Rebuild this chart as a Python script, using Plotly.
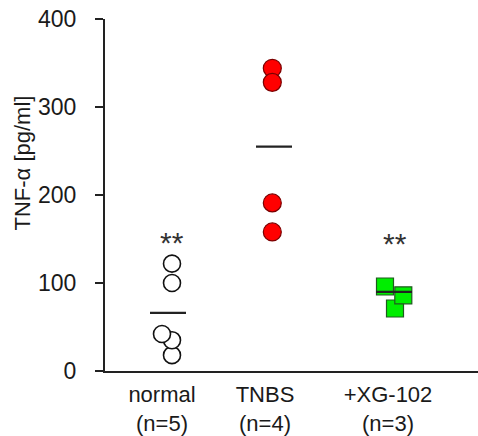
import plotly.graph_objects as go

# ---- data ----
groups = ["normal", "TNBS", "+XG-102"]
tick_labels = ["normal<br>(n=5)", "TNBS<br>(n=4)", "+XG-102<br>(n=3)"]
label_pos = [0.57, 1.60, 2.83]

normal_vals = [122, 100, 18, 35, 42]
normal_x = [0.67, 0.67, 0.67, 0.67, 0.57]
tnbs_vals = [344, 328, 191, 158]
tnbs_x = [1.673, 1.673, 1.673, 1.673]
xg_vals = [96, 71, 86]
xg_x = [2.80, 2.90, 2.983]

mean_vals = [66, 255, 90]
mean_center = [0.63, 1.69, 2.89]
sig_labels = ["**", "", "**"]
sig_x = [0.67, 1.673, 2.90]
sig_y = [146, 0, 145]

FONT = "Arial, 'Liberation Sans', sans-serif"
ink = "#1a1a1a"

fig = go.Figure()
fig.add_trace(go.Scatter(
    x=normal_x, y=normal_vals, mode="markers",
    marker=dict(symbol="circle", size=17, color="white",
                line=dict(color="#111111", width=1.6)),
    showlegend=False, hoverinfo="y"))
fig.add_trace(go.Scatter(
    x=tnbs_x, y=tnbs_vals, mode="markers",
    marker=dict(symbol="circle", size=18, color="#ff0000",
                line=dict(color="#7a0000", width=1.2)),
    showlegend=False, hoverinfo="y"))
fig.add_trace(go.Scatter(
    x=xg_x, y=xg_vals, mode="markers",
    marker=dict(symbol="square", size=17, color="#00ee00",
                line=dict(color="#1f5a1f", width=1.2)),
    showlegend=False, hoverinfo="y"))

half = 0.18
for c, m in zip(mean_center, mean_vals):
    fig.add_trace(go.Scatter(
        x=[c - half, c + half], y=[m, m], mode="lines",
        line=dict(color="#222222", width=2.2),
        showlegend=False, hoverinfo="skip"))

for sx, sy, s in zip(sig_x, sig_y, sig_labels):
    if s:
        fig.add_annotation(x=sx, y=sy, text=s, showarrow=False,
                           font=dict(family=FONT, size=30, color="#333333"),
                           xanchor="center", yanchor="middle")

fig.add_annotation(xref="paper", yref="paper", x=-0.222, y=0.59,
                   text="TNF-α [pg/ml]", textangle=-90, showarrow=False,
                   font=dict(family=FONT, size=22, color=ink),
                   xanchor="center", yanchor="middle")

fig.update_layout(
    width=478, height=436,
    margin=dict(l=105, r=0, t=19, b=65),
    paper_bgcolor="white", plot_bgcolor="white",
    font=dict(family=FONT, color=ink),
    xaxis=dict(range=[0, 3.73], showgrid=False, zeroline=False,
               showline=True, linecolor="#222222", linewidth=2,
               tickmode="array", tickvals=label_pos, ticktext=tick_labels,
               ticks="", tickfont=dict(size=22, color=ink), fixedrange=True,
               ticklabelstandoff=3, automargin=False),
    yaxis=dict(range=[0, 400], showgrid=False, zeroline=False,
               showline=True, linecolor="#222222", linewidth=2,
               tickmode="array", tickvals=[0, 100, 200, 300, 400],
               ticks="outside", ticklen=8, tickwidth=2, tickcolor="#222222",
               tickfont=dict(size=23, color=ink), fixedrange=True,
               ticklabelstandoff=14, automargin=False),
)

fig.write_html("out.html",
               config={"displayModeBar": False},
               post_script="document.body.style.margin='0';document.body.style.overflow='hidden';")
